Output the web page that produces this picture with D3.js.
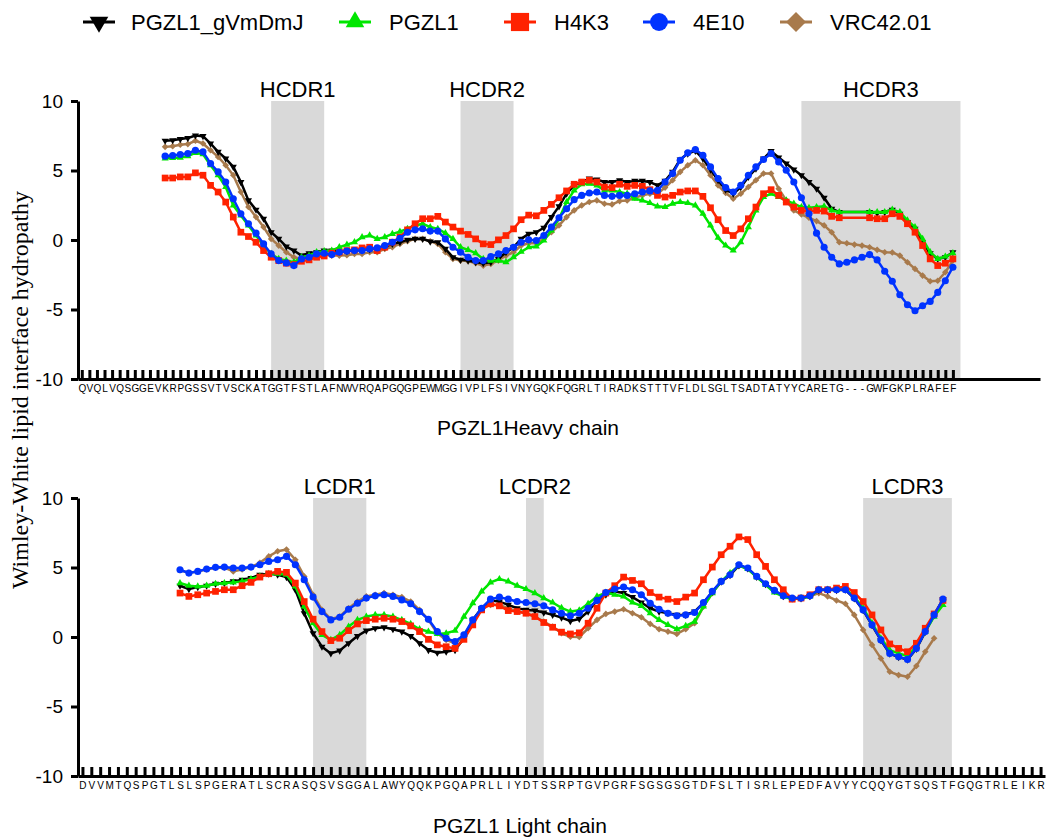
<!DOCTYPE html>
<html>
<head>
<meta charset="utf-8">
<script src="https://cdn.jsdelivr.net/npm/d3@7"></script>
<style>
  body { margin: 0; background: #fff; }
  svg { display: block; font-family: "Liberation Sans", Arial, sans-serif; }
</style>
</head>
<body>
<script>
// residue labels
const heavySeq = "QVQLVQSGGEVKRPGSSVTVSCKATGGTFSTLAFNWVRQAPGQGPEWMGGIVPLFSIVNYGQKFQGRLTIRADKSTTTVFLDLSGLTSADTATYYCARETG---GWFGKPLRAFEF".split("")
const lightSeq = "DVVMTQSPGTLSLSPGERATLSCRASQSVSGGALAWYQQKPGQAPRLLIYDTSSRPTGVPGRFSGSGSGTDFSLTISRLEPEDFAVYYCQQYGTSQSTFGQGTRLEIKR".split("")

// CDR ranges (residue index, 0-based)
const heavyCdrs = [
  { name: "HCDR1", from: 25, to: 32 },
  { name: "HCDR2", from: 50, to: 57 },
  { name: "HCDR3", from: 95, to: 116 }
]
const lightCdrs = [
  { name: "LCDR1", from: 26, to: 32 },
  { name: "LCDR2", from: 50, to: 52 },
  { name: "LCDR3", from: 88, to: 98 }
]

const seriesNames = ["PGZL1_gVmDmJ", "PGZL1", "H4K3", "4E10", "VRC42.01"]
const yTicks = [-10, -5, 0, 5, 10]

// hydropathy profiles, first value is residue 11
const heavyStart = 11
const heavyBlack = [7.14, 7.18, 7.26, 7.33, 7.52, 7.47, 6.94, 6.34, 5.86, 5.26,
  4.17, 2.85, 2.18, 1.53, 0.56, 0.08, -0.47, -0.76, -1.12, -0.95,
  -0.88, -0.76, -0.76, -0.85, -0.8, -0.75, -0.7, -0.68, -0.6, -0.52,
  -0.28, -0.16, 0.01, 0.08, 0.08, -0.11, -0.16, -0.64, -1.24, -1.43,
  -1.48, -1.6, -1.67, -1.6, -1.36, -0.88, -0.52, 0.08, 0.44, 0.56,
  0.88, 1.65, 2.42, 3.33, 3.93, 4.17, 4.42, 4.34, 4.17, 4.17,
  4.3, 4.17, 4.25, 4.25, 4.17, 3.93, 4.25, 4.9, 5.79, 6.22,
  6.41, 5.86, 5.07, 4.3, 3.62, 3.33, 3.81, 4.54, 5.14, 5.86,
  6.39, 5.93, 5.5, 5.07, 4.66, 4.17, 3.69, 3.04, 2.25, 2.01,
  null, null, null, 2.01, 1.94, 2.01, 2.18, 1.89, 1.29, 0.81,
  -0.16, -0.95, -1.36, -1.24, -0.88]
const heavyGreen = [5.86, 5.9, 5.93, 6.03, 6.27, 6.17, 5.38, 4.66, 3.81, 2.49,
  1.77, 1.05, 0.33, -0.4, -1.0, -1.36, -1.48, -1.6, -1.24, -1.12,
  -0.88, -0.8, -0.76, -0.52, -0.33, -0.16, 0.2, 0.33, 0.08, 0.2,
  0.44, 0.6, 0.81, 1.05, 1.17, 0.93, 0.8, 0.5, 0.08, -0.52,
  -0.71, -0.95, -1.36, -1.48, -1.48, -1.6, -1.24, -0.85, -0.52, -0.47,
  -0.04, 0.68, 1.53, 2.73, 3.57, 4.01, 4.05, 3.93, 3.57, 3.57,
  3.45, 3.33, 2.97, 2.85, 2.66, 2.42, 2.37, 2.61, 2.73, 2.66,
  2.49, 1.89, 1.05, 0.16, -0.4, -0.76, -0.16, 0.93, 2.13, 3.09,
  3.33, 3.09, 2.85, 2.61, 2.37, 2.32, 2.37, 2.42, 2.13, 2.01,
  null, null, null, 2.01, 2.01, 2.01, 2.18, 2.01, 1.41, 0.93,
  0.08, -0.88, -1.36, -1.19, -0.95]
const heavyRed = [4.46, 4.46, 4.54, 4.54, 4.83, 4.66, 3.93, 3.45, 2.73, 1.65,
  0.56, 0.25, -0.16, -0.76, -1.24, -1.48, -1.67, -1.77, -1.53, -1.43,
  -1.24, -1.15, -0.95, -0.88, -0.76, -0.71, -0.57, -0.52, -0.76, -0.52,
  -0.16, 0.2, 0.73, 1.17, 1.53, 1.53, 1.7, 1.29, 0.93, 0.64,
  0.4, 0.08, -0.28, -0.33, 0.01, 0.32, 0.8, 1.46, 1.79, 1.74,
  2.13, 2.56, 3.04, 3.53, 4.01, 4.17, 4.3, 4.17, 3.81, 3.77,
  4.01, 3.86, 3.93, 3.86, 3.62, 3.21, 3.09, 3.21, 3.45, 3.53,
  3.53, 3.14, 2.32, 1.46, 0.68, 0.32, 0.8, 1.53, 2.37, 3.33,
  3.62, 3.21, 2.73, 2.37, 2.13, 2.08, 2.13, 2.08, 1.7, 1.6,
  null, null, null, 1.6, 1.53, 1.53, 1.89, 1.7, 1.17, 0.56,
  -0.4, -1.36, -1.84, -1.67, -1.36]
const heavyBlue = [6.03, 6.08, 6.15, 6.22, 6.46, 6.34, 5.5, 4.9, 4.17, 2.97,
  1.89, 1.17, 0.49, -0.28, -1.0, -1.48, -1.65, -1.84, -1.36, -1.24,
  -1.0, -0.95, -1.05, -0.88, -0.8, -0.76, -0.76, -0.64, -0.57, -0.4,
  -0.16, 0.13, 0.56, 0.73, 0.81, 0.64, 0.64, 0.08, -0.52, -0.88,
  -1.24, -1.48, -1.48, -1.2, -1.0, -0.76, -0.52, -0.16, 0.01, -0.04,
  0.32, 0.93, 1.6, 2.25, 2.9, 3.21, 3.38, 3.45, 3.21, 3.14,
  3.21, 3.21, 3.33, 3.45, 3.53, 3.57, 4.17, 4.78, 5.74, 6.27,
  6.51, 6.1, 5.26, 4.42, 3.77, 3.45, 3.93, 4.66, 5.26, 5.79,
  6.22, 5.62, 5.02, 4.17, 3.04, 1.89, 0.49, -0.52, -1.24, -1.72,
  -1.6, -1.43, -1.24, -1.05, -1.43, -2.25, -2.97, -3.94, -4.66, -5.09,
  -4.73, -4.42, -3.77, -2.93, -1.96]
const heavyBrown = [6.7, 6.75, 6.85, 6.9, 7.14, 6.94, 6.46, 5.98, 5.38, 4.66,
  3.45, 2.37, 1.65, 0.93, 0.08, -0.4, -0.88, -1.24, -1.36, -1.24,
  -1.12, -1.0, -1.12, -1.12, -1.1, -1.0, -1.0, -0.88, -0.88, -0.64,
  -0.52, -0.28, -0.09, 0.08, 0.08, -0.09, -0.28, -0.88, -1.36, -1.48,
  -1.52, -1.67, -1.84, -1.72, -1.48, -1.12, -0.88, -0.4, -0.23, -0.23,
  0.08, 0.56, 1.05, 1.65, 2.13, 2.49, 2.73, 2.85, 2.61, 2.56,
  2.8, 2.85, 3.04, 3.21, 3.33, 3.33, 3.77, 4.3, 4.9, 5.38,
  5.74, 5.38, 4.66, 3.93, 3.38, 2.97, 3.33, 3.81, 4.3, 4.78,
  4.78, 3.69, 2.85, 2.13, 1.84, 1.6, 1.36, 1.05, 0.56, -0.16,
  -0.23, -0.33, -0.4, -0.52, -0.71, -0.88, -0.9, -1.12, -1.6, -2.08,
  -2.56, -2.97, -2.93, -2.32, -1.48]

const lightStart = 11
const lightBlack = [3.69, 3.45, 3.59, 3.69, 3.83, 3.88, 4.0, 4.12, 4.24, 4.48,
  4.55, 4.48, 4.31, 3.4, 1.71, 0.27, -0.7, -1.18, -0.98, -0.45,
  0.07, 0.46, 0.63, 0.7, 0.56, 0.39, 0.07, -0.45, -0.94, -1.13,
  -1.06, -0.94, -0.09, 1.23, 2.07, 2.63, 2.55, 2.31, 2.07, 1.95,
  1.9, 1.76, 1.59, 1.4, 1.15, 1.3, 1.83, 2.63, 3.04, 3.28,
  3.16, 2.87, 2.48, 2.07, 1.83, 1.71, 1.59, 1.6, 1.83, 2.45,
  3.25, 3.98, 4.45, 5.15, 4.93, 4.33, 3.8, 3.33, 2.94, 2.78,
  2.78, 2.94, 3.38, 3.38, 3.38, 3.4, 2.78, 1.93, 0.85, -0.23,
  -1.2, -1.45, -1.63, -0.85, 0.37, 1.57, 2.7]
const lightGreen = [3.88, 3.69, 3.64, 3.69, 3.83, 3.88, 3.93, 4.0, 4.17, 4.36,
  4.55, 4.55, 4.48, 3.64, 2.19, 0.99, 0.15, -0.21, 0.15, 0.75,
  1.23, 1.47, 1.59, 1.59, 1.47, 1.23, 0.94, 0.56, 0.39, 0.22,
  0.27, 0.46, 1.47, 2.43, 3.28, 3.93, 4.17, 4.0, 3.69, 3.45,
  3.16, 2.8, 2.48, 2.1, 1.83, 1.92, 2.39, 2.92, 3.2, 3.04,
  2.92, 2.48, 2.24, 1.71, 1.23, 0.87, 0.56, 0.8, 1.11, 2.19,
  3.16, 4.0, 4.6, 5.13, 4.89, 4.31, 3.76, 3.2, 2.92, 2.72,
  2.8, 2.92, 3.4, 3.4, 3.4, 3.45, 2.92, 2.07, 0.99, -0.09,
  -0.94, -1.18, -1.37, -0.7, 0.39, 1.47, 2.31]
const lightRed = [3.16, 2.92, 3.04, 3.16, 3.28, 3.4, 3.4, 3.69, 3.93, 4.31,
  4.55, 4.72, 4.65, 3.88, 2.55, 1.28, 0.39, -0.26, -0.09, 0.46,
  0.94, 1.18, 1.28, 1.35, 1.28, 1.11, 0.8, 0.39, -0.17, -0.57,
  -0.7, -0.82, -0.17, 0.87, 1.95, 2.39, 2.24, 1.9, 1.83, 1.71,
  1.47, 1.04, 0.7, 0.35, 0.22, 0.3, 0.99, 2.07, 3.16, 3.69,
  4.31, 4.07, 3.83, 3.2, 2.87, 2.72, 2.55, 2.87, 3.16, 4.12,
  5.03, 5.92, 6.53, 7.2, 7.01, 5.92, 5.08, 4.12, 3.4, 2.72,
  2.8, 3.04, 3.4, 3.4, 3.52, 3.64, 3.2, 2.55, 1.59, 0.51,
  -0.5, -0.82, -1.06, -0.45, 0.63, 1.66, 2.63]
const lightBlue = [4.84, 4.6, 4.72, 4.89, 5.01, 5.03, 4.96, 4.96, 5.03, 5.2,
  5.44, 5.56, 5.8, 5.2, 4.12, 2.87, 1.83, 1.23, 1.42, 2.0,
  2.43, 2.8, 2.96, 3.04, 2.92, 2.67, 2.39, 1.83, 1.28, 0.39,
  -0.09, -0.33, 0.15, 1.23, 2.07, 2.72, 2.87, 2.72, 2.55, 2.48,
  2.39, 2.24, 1.95, 1.71, 1.52, 1.71, 2.07, 2.63, 3.2, 3.45,
  3.59, 3.4, 3.04, 2.43, 2.0, 1.71, 1.52, 1.59, 1.76, 2.48,
  3.28, 4.0, 4.48, 5.2, 4.96, 4.36, 3.83, 3.35, 2.96, 2.8,
  2.8, 2.96, 3.4, 3.4, 3.4, 3.4, 2.8, 1.95, 0.87, -0.21,
  -1.18, -1.42, -1.61, -0.82, 0.39, 1.59, 2.72]
const lightBrown = [4.8, 4.62, 4.72, 4.86, 4.98, 5.0, 4.72, 4.86, 5.03, 5.34,
  5.8, 6.17, 6.29, 5.56, 4.36, 3.04, 1.95, 1.28, 1.47, 2.07,
  2.55, 2.92, 3.04, 3.16, 3.04, 2.87, 2.55, 1.95, 1.23, 0.27,
  -0.21, -0.45, 0.03, 1.23, 2.07, 2.31, 2.31, 2.07, 1.83, 1.71,
  1.47, 1.11, 0.75, 0.27, 0.02, 0.0, 0.63, 1.23, 1.66, 1.83,
  2.0, 1.71, 1.42, 0.94, 0.56, 0.39, 0.22, 0.56, 0.99, 2.19,
  3.16, 4.0, 4.48, 5.13, 4.93, 4.33, 3.8, 3.28, 2.92, 2.76,
  2.8, 2.92, 3.16, 2.92, 2.63, 2.39, 1.59, 0.51, -0.57, -1.54,
  -2.5, -2.74, -2.86, -2.09, -1.06, -0.09]

const colors = ["#000000", "#00e600", "#ff2200", "#0033ff", "#a87a4c"]
const drawOrder = [4, 0, 1, 2, 3]

function symbolPath(k, size) {
  if (k === 0 || k === 1) return d3.symbol(d3.symbolTriangle, size)()
  if (k === 2 || k === 4) return d3.symbol(d3.symbolSquare, size)()
  return d3.symbol(d3.symbolCircle, size)()
}
function symbolRotate(k) {
  return k === 0 ? 180 : k === 4 ? 45 : 0
}
const smallSize = [22, 22, 45, 40, 22]
const bigSize = [150, 150, 330, 250, 200]

const svg = d3.select("body").append("svg")
  .attr("width", 1046)
  .attr("height", 837)

function drawPanel(cfg) {
  let x = d3.scaleLinear()
    .domain([-0.5, cfg.slots - 0.5])
    .range([78, cfg.right])
  let y = d3.scaleLinear()
    .domain([-10, 10])
    .range(cfg.yRange)

  const g = svg.append("g")

  g.selectAll("rect.cdr")
    .data(cfg.cdrs)
    .join("rect")
      .attr("x", d => x(d.from))
      .attr("width", d => x(d.to) - x(d.from))
      .attr("y", y(10))
      .attr("height", y(-10) - y(10))
      .attr("fill", "#d9d9d9")

  g.selectAll("text.cdr")
    .data(cfg.cdrs)
    .join("text")
      .attr("x", d => (x(d.from) + x(d.to)) / 2)
      .attr("y", y(10) - 4)
      .attr("text-anchor", "middle")
      .style("font-size", "22px")
      .text(d => d.name)

  let line = d3.line()
    .x(d => x(d.i))
    .y(d => y(d.v))

  for (let k of drawOrder) {
    let pts = cfg.values[k]
      .map((v, j) => ({ i: j + cfg.start, v }))
      .filter(d => d.v != null)

    g.append("path")
      .datum(pts)
      .attr("fill", "none")
      .attr("stroke", colors[k])
      .attr("stroke-width", 2.5)
      .attr("stroke-linejoin", "round")
      .attr("d", line)

    g.append("g")
      .selectAll("path")
      .data(pts)
      .join("path")
        .attr("d", symbolPath(k, smallSize[k]))
        .attr("fill", colors[k])
        .attr("transform", d => `translate(${x(d.i)},${y(d.v)}) rotate(${symbolRotate(k)})`)
  }

  let xAxis = g.append("g")
    .attr("transform", `translate(0,${y(-10)})`)
    .call(d3.axisBottom(x)
      .tickValues(d3.range(cfg.seq.length))
      .tickFormat(i => cfg.seq[i])
      .tickSizeInner(-9)
      .tickSizeOuter(0)
      .tickPadding(6))
  xAxis.select(".domain").attr("stroke-width", 3)
  xAxis.selectAll(".tick line").attr("stroke-width", 3)
  xAxis.selectAll(".tick text")
    .style("font-size", "10px")
    .style("font-family", "'Liberation Sans', Arial, sans-serif")

  let yAxis = g.append("g")
    .attr("transform", `translate(78,0)`)
    .call(d3.axisLeft(y)
      .tickValues(yTicks)
      .tickFormat(d => String(d))
      .tickSizeInner(7)
      .tickSizeOuter(0)
      .tickPadding(8))
  yAxis.select(".domain").attr("stroke-width", 3)
  yAxis.selectAll(".tick line").attr("stroke-width", 3)
  yAxis.selectAll(".tick text")
    .style("font-size", "19px")
    .style("font-family", "'Liberation Sans', Arial, sans-serif")

  g.append("text")
    .attr("x", cfg.titleX)
    .attr("y", cfg.titleY)
    .attr("text-anchor", "middle")
    .style("font-size", "21px")
    .text(cfg.title)
}

drawPanel({
  seq: heavySeq, slots: 127, right: 1040, yRange: [379, 101],
  start: heavyStart, values: [heavyBlack, heavyGreen, heavyRed, heavyBlue, heavyBrown],
  cdrs: heavyCdrs, title: "PGZL1Heavy chain", titleX: 528, titleY: 435
})
drawPanel({
  seq: lightSeq, slots: 109, right: 1045, yRange: [776, 498],
  start: lightStart, values: [lightBlack, lightGreen, lightRed, lightBlue, lightBrown],
  cdrs: lightCdrs, title: "PGZL1 Light chain", titleX: 520, titleY: 833
})

// legend
let legendX = [99, 355, 520, 659, 796]
let legend = svg.append("g")
  .selectAll("g")
  .data(seriesNames)
  .join("g")
    .attr("transform", (d, k) => `translate(${legendX[k]},22)`)
legend.append("line")
  .attr("x1", -16).attr("x2", 16)
  .attr("stroke", (d, k) => colors[k])
  .attr("stroke-width", 3)
legend.append("path")
  .attr("d", (d, k) => symbolPath(k, bigSize[k]))
  .attr("fill", (d, k) => colors[k])
  .attr("transform", (d, k) => `rotate(${symbolRotate(k)})`)
legend.append("text")
  .attr("x", (d, k) => k === 0 ? 32 : 34)
  .attr("y", 8)
  .style("font-size", "22px")
  .text(d => d)

svg.append("text")
  .attr("transform", "rotate(-90)")
  .attr("x", -390)
  .attr("y", 28)
  .attr("text-anchor", "middle")
  .style("font-family", "'Liberation Serif', 'Times New Roman', serif")
  .style("font-size", "24px")
  .text("Wimley-White lipid interface hydropathy")
</script>
</body>
</html>
